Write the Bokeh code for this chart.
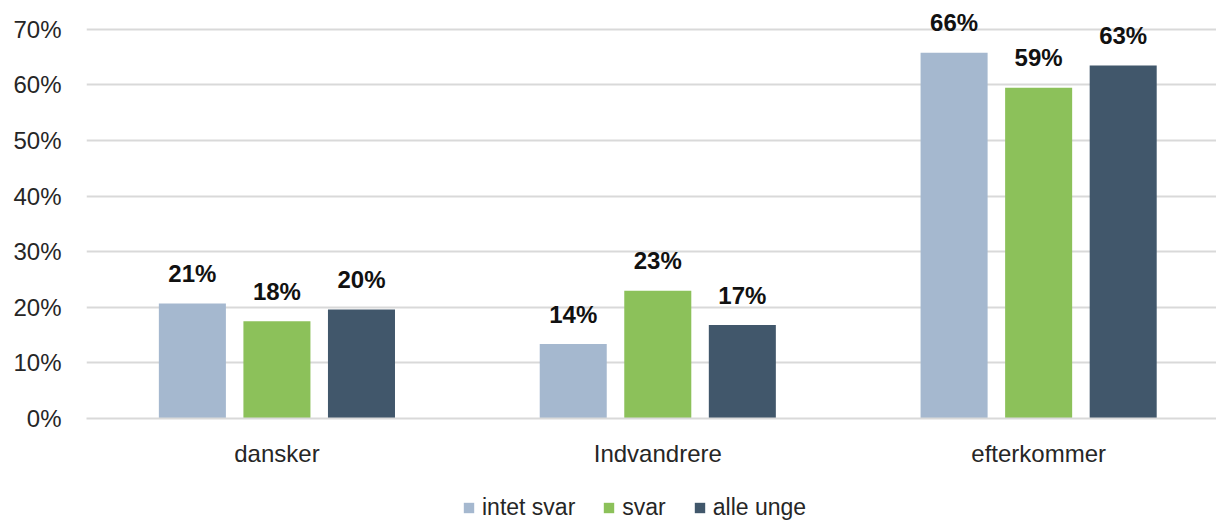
from bokeh.plotting import figure
from bokeh.layouts import column
from bokeh.models import ColumnDataSource, Range1d, FixedTicker, NumeralTickFormatter, Legend, LegendItem
from bokeh.core.properties import value
from bokeh.embed import file_html
from bokeh.resources import INLINE

categories = ["dansker", "Indvandrere", "efterkommer"]
series_names = ["intet svar", "svar", "alle unge"]
intet_svar = [0.207, 0.134, 0.658]
svar = [0.175, 0.230, 0.595]
alle_unge = [0.196, 0.168, 0.635]
labels_intet_svar = ["21%", "14%", "66%"]
labels_svar = ["18%", "23%", "59%"]
labels_alle_unge = ["20%", "17%", "63%"]
colors = ["#A5B8CF", "#8CC15A", "#41576B"]
y_ticks = [0, 0.1, 0.2, 0.3, 0.4, 0.5, 0.6, 0.7]

FONT = "Liberation Sans"
TEXT = "#262626"
W = 1216

p = figure(width=W, height=470, output_backend="svg", toolbar_location=None,
           x_range=Range1d(0, 2.967), y_range=Range1d(0, 0.752),
           min_border_left=86, min_border_right=0, min_border_top=0,
           min_border_bottom=52)
p.outline_line_color = None
p.background_fill_color = "white"
p.border_fill_color = "white"

centers = [i + 0.5 for i in range(len(categories))]
offsets = [-0.222, 0.0, 0.222]
bar_w = 0.176
all_vals = [intet_svar, svar, alle_unge]
all_labels = [labels_intet_svar, labels_svar, labels_alle_unge]

for k, (vals, labs) in enumerate(zip(all_vals, all_labels)):
    src = ColumnDataSource(dict(x=[c + offsets[k] for c in centers], top=vals, lab=labs))
    p.vbar(x="x", top="top", width=bar_w, source=src, fill_color=colors[k],
           line_color=None)
    p.text(x="x", y="top", text="lab", source=src, text_align="center",
           text_baseline="alphabetic", y_offset=-30, text_font=value(FONT),
           text_font_style="bold", text_font_size="24px", text_color="#111111")

# axes
p.xaxis.ticker = FixedTicker(ticks=centers)
p.xaxis.major_label_overrides = {c: name for c, name in zip(centers, categories)}
p.xaxis.major_tick_line_color = None
p.xaxis.minor_tick_line_color = None
p.xaxis.axis_line_color = "#D9D9D9"
p.xaxis.axis_line_width = 2
p.xaxis.major_label_standoff = 15
p.xaxis.major_label_text_font = FONT
p.xaxis.major_label_text_font_size = "24px"
p.xaxis.major_label_text_color = TEXT

p.yaxis.ticker = FixedTicker(ticks=y_ticks)
p.yaxis.formatter = NumeralTickFormatter(format="0%")
p.yaxis.axis_line_color = None
p.yaxis.major_tick_line_color = None
p.yaxis.minor_tick_line_color = None
p.yaxis.major_label_standoff = 19
p.yaxis.major_label_text_font = FONT
p.yaxis.major_label_text_font_size = "24px"
p.yaxis.major_label_text_color = TEXT

p.xgrid.grid_line_color = None
p.ygrid.grid_line_color = "#D9D9D9"
p.ygrid.grid_line_width = 2

# legend strip below the chart
lg = figure(width=W, height=50, output_backend="svg", toolbar_location=None,
            x_range=Range1d(0, 1), y_range=Range1d(0, 1),
            min_border_left=0, min_border_right=0, min_border_top=0, min_border_bottom=0)
lg.outline_line_color = None
lg.axis.visible = False
lg.grid.visible = False
items = []
for k in range(len(series_names)):
    r = lg.vbar(x=[0.5], top=[0], bottom=[0], width=0.0, fill_color=colors[k],
                line_color=None)
    items.append(LegendItem(label=series_names[k], renderers=[r]))
legend = Legend(items=items, orientation="horizontal", location=(376, -1),
                label_text_font=FONT, label_text_font_size="23px", label_text_color=TEXT,
                glyph_width=13, glyph_height=13, label_standoff=7, spacing=27,
                label_height=20, border_line_color=None, background_fill_alpha=0,
                padding=0, margin=0)
lg.add_layout(legend, "center")

layout = column(p, lg, spacing=0)
open("out.html", "w").write(file_html(layout, INLINE))
